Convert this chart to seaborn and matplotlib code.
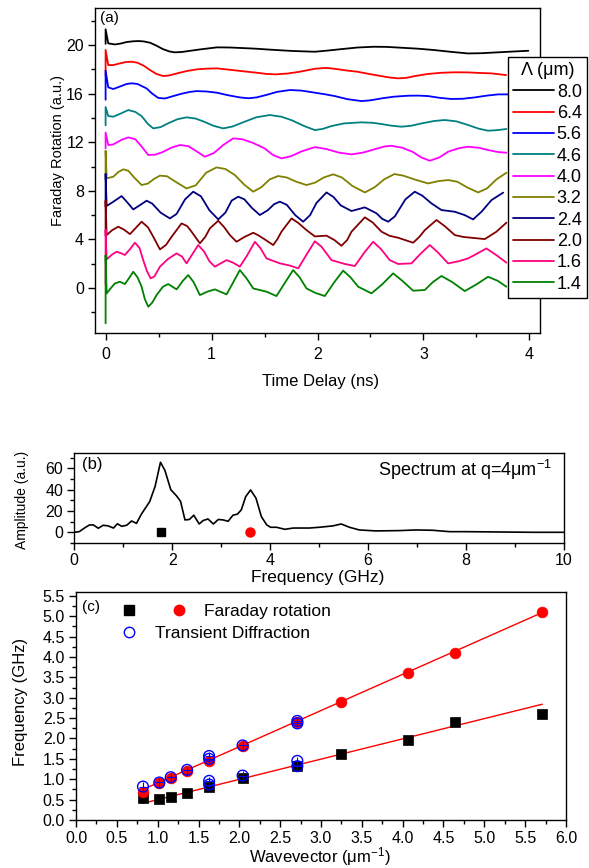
import numpy as np
import matplotlib
matplotlib.use("Agg")
import matplotlib.pyplot as plt
import seaborn as sns
from matplotlib.lines import Line2D
from matplotlib.legend_handler import HandlerTuple

sns.set_theme(style="ticks")
plt.rcParams.update({
    "font.family": ["Liberation Sans", "DejaVu Sans"],
    "mathtext.fontset": "custom",
    "mathtext.rm": "Liberation Sans",
    "mathtext.default": "regular",
    "axes.edgecolor": "black",
    "axes.linewidth": 1.0,
    "xtick.color": "black",
    "ytick.color": "black",
    "text.color": "black",
    "axes.labelcolor": "black",
})

# ---- panel (a): Faraday rotation traces, one per grating period ----
lambdas = ["8.0", "6.4", "5.6", "4.6", "4.0", "3.2", "2.4", "2.0", "1.6", "1.4"]
colors = ["#000000", "#FF0000", "#0000FF", "#008080", "#FF00FF",
          "#808000", "#000080", "#800000", "#FF0080", "#008000"]

t_80 = [0, 0, 0.025, 0.088, 0.14, 0.2, 0.26, 0.31, 0.36, 0.42, 0.48, 0.54, 0.6, 0.65, 0.72, 0.8, 0.9,
        1.05, 1.17, 1.3, 1.42, 1.52, 1.65, 1.77, 1.975, 2.1, 2.23, 2.38, 2.53, 2.65, 2.79, 2.95, 3.1,
        3.25, 3.42, 3.55, 3.7, 3.85, 3.99]
y_80 = [20.1, 21.3, 20.14, 20.05, 20.12, 20.25, 20.31, 20.33, 20.3, 20.19, 19.95, 19.67, 19.48, 19.40,
        19.43, 19.53, 19.65, 19.81, 19.8, 19.75, 19.7, 19.64, 19.57, 19.51, 19.45, 19.55, 19.67, 19.8,
        19.86, 19.85, 19.78, 19.7, 19.59, 19.45, 19.31, 19.33, 19.40, 19.47, 19.53]

t_64 = [0, 0, 0.025, 0.072, 0.13, 0.19, 0.245, 0.3, 0.36, 0.42, 0.48, 0.544, 0.6, 0.68, 0.76, 0.86,
        0.96, 1.05, 1.2, 1.32, 1.43, 1.52, 1.61, 1.72, 1.83, 1.975, 2.08, 2.16, 2.28, 2.38, 2.5, 2.6,
        2.68, 2.76, 2.84, 2.92, 3.04, 3.17, 3.3, 3.42, 3.54, 3.64, 3.78]
y_64 = [17.5, 19.6, 18.35, 18.35, 18.48, 18.6, 18.63, 18.55, 18.3, 17.94, 17.62, 17.45, 17.5, 17.68,
        17.85, 18.0, 18.06, 18.08, 17.94, 17.82, 17.72, 17.62, 17.59, 17.66, 17.8, 18.05, 18.12, 18.05,
        17.9, 17.8, 17.6, 17.45, 17.33, 17.26, 17.3, 17.45, 17.62, 17.72, 17.76, 17.75, 17.7, 17.67, 17.53]

t_56 = [0, 0, 0.025, 0.072, 0.14, 0.2, 0.245, 0.3, 0.387, 0.44, 0.497, 0.56, 0.638, 0.72, 0.8, 0.86,
        0.95, 1.05, 1.15, 1.267, 1.35, 1.425, 1.52, 1.62, 1.74, 1.85, 1.975, 2.07, 2.164, 2.28, 2.415,
        2.5, 2.604, 2.72, 2.855, 2.95, 3.044, 3.15, 3.264, 3.37, 3.484, 3.6, 3.704, 3.8]
y_56 = [15.5, 17.9, 16.52, 16.38, 16.6, 16.8, 16.85, 16.8, 16.43, 16.0, 15.65, 15.6, 15.8, 16.0, 16.15,
        16.21, 16.18, 16.08, 15.88, 15.69, 15.62, 15.69, 15.9, 16.15, 16.3, 16.25, 16.08, 15.95, 15.8,
        15.55, 15.39, 15.45, 15.61, 15.75, 15.83, 15.84, 15.80, 15.66, 15.56, 15.58, 15.69, 15.84, 15.94, 15.94]

t_46 = [0, 0, 0.025, 0.072, 0.14, 0.214, 0.28, 0.34, 0.4, 0.45, 0.52, 0.6, 0.68, 0.764, 0.85, 0.93,
        1.02, 1.11, 1.2, 1.3, 1.42, 1.55, 1.66, 1.76, 1.87, 1.975, 2.05, 2.13, 2.25, 2.415, 2.52, 2.604,
        2.7, 2.792, 2.88, 2.981, 3.1, 3.201, 3.31, 3.421, 3.52, 3.61, 3.7, 3.783]
y_46 = [13.4, 14.9, 14.16, 14.1, 14.35, 14.65, 14.5, 14.15, 13.5, 13.14, 13.25, 13.6, 13.9, 14.05,
        13.95, 13.69, 13.35, 13.14, 13.3, 13.65, 14.05, 14.24, 14.1, 13.8, 13.35, 13.0, 13.1, 13.33,
        13.55, 13.64, 13.6, 13.5, 13.36, 13.28, 13.35, 13.55, 13.75, 13.83, 13.72, 13.42, 13.12, 12.95,
        13.0, 13.09]

t_40 = [0, 0, 0.025, 0.072, 0.15, 0.214, 0.28, 0.34, 0.403, 0.47, 0.54, 0.62, 0.7, 0.78, 0.85, 0.937,
        1.02, 1.11, 1.204, 1.29, 1.39, 1.5, 1.58, 1.66, 1.75, 1.85, 1.975, 2.08, 2.2, 2.321, 2.43, 2.55,
        2.63, 2.698, 2.8, 2.9, 2.98, 3.06, 3.15, 3.233, 3.33, 3.421, 3.52, 3.61, 3.7, 3.783]
y_40 = [11.5, 12.8, 11.77, 11.82, 12.2, 12.4, 12.25, 11.65, 10.95, 10.98, 11.2, 11.55, 11.77, 11.68,
        11.3, 10.81, 11.1, 11.77, 12.32, 12.25, 11.95, 11.5, 10.95, 10.67, 10.85, 11.25, 11.6, 11.45,
        11.15, 11.0, 11.15, 11.45, 11.65, 11.71, 11.55, 11.2, 10.75, 10.48, 10.75, 11.22, 11.5, 11.63,
        11.55, 11.36, 11.2, 11.14]

t_32 = [0, 0, 0.01, 0.072, 0.12, 0.167, 0.215, 0.27, 0.34, 0.4, 0.46, 0.513, 0.58, 0.66, 0.764, 0.85,
        0.95, 1.047, 1.13, 1.22, 1.31, 1.393, 1.47, 1.55, 1.629, 1.71, 1.8, 1.896, 1.975, 2.06, 2.148,
        2.23, 2.33, 2.447, 2.54, 2.63, 2.726, 2.81, 2.93, 3.044, 3.14, 3.233, 3.32, 3.42, 3.516, 3.6,
        3.69, 3.783]
y_32 = [9.0, 11.3, 9.03, 9.16, 9.55, 9.77, 9.65, 9.1, 8.48, 8.6, 9.0, 9.25, 9.2, 8.75, 8.2, 8.45, 9.5,
        9.93, 9.8, 9.3, 8.5, 7.93, 8.3, 8.95, 9.22, 9.1, 8.75, 8.48, 8.67, 9.1, 9.36, 9.1, 8.4, 7.87, 8.3,
        8.95, 9.38, 9.25, 8.9, 8.61, 8.8, 8.89, 8.75, 8.25, 7.87, 8.2, 8.95, 9.49]

t_24 = [0, 0, 0.01, 0.072, 0.151, 0.2, 0.261, 0.32, 0.387, 0.44, 0.52, 0.607, 0.67, 0.75, 0.827, 0.9,
        0.98, 1.063, 1.13, 1.19, 1.252, 1.31, 1.38, 1.456, 1.53, 1.59, 1.645, 1.71, 1.79, 1.865, 1.93,
        1.99, 2.085, 2.15, 2.22, 2.321, 2.447, 2.557, 2.61, 2.667, 2.73, 2.83, 2.918, 2.99, 3.075, 3.17,
        3.296, 3.39, 3.469, 3.55, 3.642, 3.752]
y_24 = [6.7, 9.4, 6.75, 7.1, 7.57, 7.1, 6.47, 6.8, 7.19, 6.95, 6.2, 5.73, 6.1, 7.3, 7.93, 7.55, 6.4,
        5.65, 6.2, 7.2, 7.52, 7.3, 6.6, 6.01, 6.4, 6.9, 7.11, 6.85, 6.0, 5.46, 6.0, 7.0, 7.87, 7.5, 6.8,
        6.34, 6.64, 6.15, 5.7, 5.46, 5.9, 7.3, 7.93, 7.6, 6.97, 6.42, 6.28, 6.0, 5.65, 6.3, 7.24, 7.85]

t_20 = [0, 0, 0.01, 0.06, 0.12, 0.175, 0.23, 0.285, 0.34, 0.4, 0.45, 0.513, 0.57, 0.623, 0.717, 0.77,
        0.811, 0.89, 0.94, 0.984, 1.063, 1.12, 1.173, 1.236, 1.31, 1.393, 1.44, 1.487, 1.582, 1.62, 1.66,
        1.755, 1.82, 1.896, 1.975, 2.085, 2.16, 2.226, 2.28, 2.321, 2.447, 2.52, 2.604, 2.68, 2.761,
        2.903, 2.96, 3.013, 3.123, 3.2, 3.296, 3.38, 3.453, 3.579, 3.689, 3.783]
y_20 = [4.3, 7.2, 4.36, 4.75, 5.05, 4.8, 4.44, 4.95, 5.46, 5.0, 4.22, 3.18, 3.55, 4.22, 5.32, 5.1,
        4.64, 3.68, 4.2, 4.91, 5.54, 5.0, 4.36, 3.81, 4.2, 4.55, 4.35, 4.09, 3.54, 4.0, 4.64, 5.73, 5.35,
        4.77, 4.25, 4.31, 3.95, 3.48, 3.95, 4.64, 5.82, 5.4, 4.64, 4.3, 4.14, 3.73, 4.2, 4.77, 5.6, 5.1,
        4.36, 4.2, 4.14, 4.03, 4.64, 5.38]

t_16 = [0, 0, 0.01, 0.06, 0.104, 0.15, 0.182, 0.23, 0.277, 0.32, 0.355, 0.39, 0.425, 0.46, 0.513, 0.59,
        0.67, 0.72, 0.764, 0.82, 0.874, 0.93, 0.98, 1.031, 1.09, 1.142, 1.2, 1.267, 1.33, 1.409, 1.46,
        1.519, 1.645, 1.74, 1.818, 1.9, 1.975, 2.038, 2.132, 2.258, 2.352, 2.44, 2.525, 2.6, 2.682,
        2.761, 2.887, 2.97, 3.06, 3.14, 3.233, 3.33, 3.421, 3.51, 3.594, 3.69, 3.783]
y_16 = [0.3, 4.8, 2.36, 2.75, 2.99, 2.85, 2.72, 3.2, 3.73, 3.3, 2.3, 1.4, 0.8, 0.95, 1.76, 2.4, 2.85,
        2.6, 2.03, 2.8, 3.54, 3.0, 2.2, 1.76, 2.05, 2.3, 2.1, 1.76, 2.6, 3.81, 3.3, 2.44, 2.03, 1.85,
        1.62, 2.8, 3.85, 3.4, 2.3, 1.98, 1.81, 2.9, 3.81, 3.2, 2.3, 1.98, 2.03, 2.8, 3.54, 2.9, 2.03,
        2.2, 2.44, 2.85, 3.26, 2.7, 2.09]

t_14 = [0, 0, 0.01, 0.05, 0.088, 0.135, 0.182, 0.22, 0.261, 0.3, 0.34, 0.37, 0.403, 0.44, 0.481, 0.54,
        0.591, 0.67, 0.73, 0.78, 0.83, 0.89, 0.96, 1.031, 1.142, 1.2, 1.267, 1.33, 1.393, 1.519, 1.613,
        1.69, 1.77, 1.83, 1.896, 1.975, 2.069, 2.16, 2.242, 2.31, 2.384, 2.509, 2.61, 2.714, 2.8, 2.903,
        3.013, 3.09, 3.17, 3.27, 3.39, 3.5, 3.61, 3.7, 3.783]
y_14 = [-2.9, 2.7, -0.44, 0.0, 0.38, 0.52, 0.33, 0.8, 1.34, 0.9, 0.11, -0.9, -1.54, -1.2, -0.58, 0.1,
        0.33, -0.11, 0.6, 1.07, 0.5, -0.58, -0.3, -0.11, -0.52, 0.4, 1.48, 0.8, -0.03, -0.3, -0.66, 0.4,
        1.48, 0.9, -0.03, -0.38, -0.66, 0.5, 1.43, 0.9, 0.11, -0.44, 0.3, 1.21, 0.6, -0.22, -0.16, 0.5,
        0.99, 0.5, -0.25, 0.3, 0.93, 0.6, 0.11]

traces = [(t_80, y_80), (t_64, y_64), (t_56, y_56), (t_46, y_46), (t_40, y_40),
          (t_32, y_32), (t_24, y_24), (t_20, y_20), (t_16, y_16), (t_14, y_14)]

# ---- panel (b): spectrum at q = 4 um^-1 ----
freq = [0, 0.1, 0.22, 0.31, 0.39, 0.49, 0.59, 0.69, 0.8, 0.88, 0.97, 1.07, 1.17, 1.27, 1.37, 1.54,
        1.65, 1.76, 1.85, 1.97, 2.09, 2.17, 2.26, 2.35, 2.44, 2.55, 2.63, 2.73, 2.84, 2.94, 3.04,
        3.14, 3.24, 3.33, 3.41, 3.5, 3.6, 3.71, 3.82, 3.93, 4.01, 4.13, 4.3, 4.47, 4.8, 5.0, 5.28,
        5.45, 5.62, 5.82, 6.16, 6.64, 6.98, 7.32, 7.66, 8.0, 8.68, 9.36, 10.0]
amp = [0, 0.6, 4.4, 6.9, 6.9, 3.8, 6.6, 6.0, 4.0, 8.0, 5.6, 6.6, 10.6, 8.4, 17.0, 28.8,
       43.0, 65.6, 58.0, 40.0, 34.0, 29.0, 11.6, 12.0, 16.0, 7.8, 11.0, 12.5, 7.8, 12.0, 11.6,
       10.3, 16.0, 17.0, 21.0, 33.4, 39.7, 32.0, 14.7, 6.9, 4.7, 4.7, 2.8, 4.0, 4.0, 4.7, 6.0,
       7.8, 4.7, 2.2, 1.3, 1.6, 2.2, 1.9, 0.6, 0.6, 0.3, 0.0, 0.0]
peak_low = [1.78, 0.0]
peak_high = [3.58, 0.0]

# ---- panel (c): dispersion ----
q_fr = [0.82, 1.02, 1.16, 1.36, 1.63, 2.04, 2.71, 3.25, 4.06, 4.64, 5.71]
f_fr_low = [0.53, 0.51, 0.57, 0.67, 0.80, 1.02, 1.33, 1.63, 1.97, 2.41, 2.60]
f_fr_high = [0.68, 0.90, 1.04, 1.21, 1.45, 1.81, 2.40, 2.90, 3.60, 4.09, 5.09]
q_td = [0.82, 1.02, 1.16, 1.36, 1.63, 1.63, 1.63, 1.63, 2.04, 2.04, 2.71, 2.71, 2.71, 2.71]
f_td = [0.82, 0.92, 1.05, 1.23, 1.57, 1.50, 0.96, 0.87, 1.83, 1.09, 2.43, 2.37, 1.45, 1.32]
fit_q = [0.82, 5.71]
fit_high = [0.75, 5.09]
fit_low = [0.41, 2.84]

W, H = 589, 868
fig = plt.figure(figsize=(W / 100, H / 100), dpi=100)


def box(l, t, r, b):
    return [l / W, 1 - b / H, (r - l) / W, (b - t) / H]


def style(ax):
    ax.tick_params(which="both", direction="out", top=False, right=False,
                   labelsize=11.5, width=1)
    ax.tick_params(which="major", length=5, pad=3)
    ax.tick_params(which="minor", length=3)
    for s in ax.spines.values():
        s.set_visible(True)
        s.set_color("black")
        s.set_linewidth(1.0)


# (a)
ax_a = fig.add_axes(box(95, 8, 540, 333))
for (tt, yy), lab, c in zip(traces, lambdas, colors):
    sns.lineplot(x=tt, y=yy, ax=ax_a, color=c, lw=1.3, sort=False, estimator=None, label=lab)
ax_a.set_xlim(-0.1, 4.1)
ax_a.set_ylim(-3.7, 23.05)
ax_a.set_xticks([0, 1, 2, 3, 4])
ax_a.set_xticks(np.arange(0, 4.01, 0.5), minor=True)
ax_a.set_yticks([0, 4, 8, 12, 16, 20])
ax_a.set_yticks(np.arange(-2, 23, 2), minor=True)
style(ax_a)
ax_a.tick_params(axis="x", pad=5)
ax_a.set_xlabel("Time Delay (ns)", fontsize=12)
ax_a.set_ylabel("Faraday Rotation (a.u.)", fontsize=10.5)
ax_a.xaxis.set_label_coords(0.506, -0.126)
ax_a.yaxis.set_label_coords(-0.067, 0.563)
ax_a.text(0.011, 0.99, "(a)", transform=ax_a.transAxes, ha="left", va="top", fontsize=11)
leg = ax_a.legend(title="Λ (μm)", loc="upper left", bbox_to_anchor=(507.7 / W, 1 - 57.3 / H),
                  bbox_transform=fig.transFigure, borderaxespad=0, fontsize=13,
                  title_fontsize=13, handlelength=2.27, handletextpad=0.17,
                  labelspacing=0.24, borderpad=0.28, fancybox=False, framealpha=1,
                  edgecolor="black")
leg.get_frame().set_linewidth(1.0)

# (b)
ax_b = fig.add_axes(box(74.3, 453.3, 564, 543.3))
sns.lineplot(x=freq, y=amp, ax=ax_b, color="black", lw=1.2, sort=False, estimator=None)
ax_b.plot(peak_low[0], peak_low[1], marker="s", color="black", ms=6, ls="none")
ax_b.plot(peak_high[0], peak_high[1], marker="o", color="red", ms=6.5, ls="none")
ax_b.set_xlim(0, 10)
ax_b.set_ylim(-10.3, 74)
ax_b.set_xticks([0, 2, 4, 6, 8, 10])
ax_b.set_xticks(np.arange(0, 10.1, 1), minor=True)
ax_b.set_yticks([0, 20, 40, 60])
ax_b.set_yticks(np.arange(-10, 71, 10), minor=True)
style(ax_b)
ax_b.tick_params(axis="x", pad=2)
ax_b.set_xlabel("Frequency (GHz)", fontsize=12.5)
ax_b.set_ylabel("Amplitude (a.u.)", fontsize=10)
ax_b.xaxis.set_label_coords(0.498, -0.295)
ax_b.yaxis.set_label_coords(-0.0925, 0.48)
ax_b.text(0.016, 0.955, "(b)", transform=ax_b.transAxes, ha="left", va="top", fontsize=12)
ax_b.text(0.976, 0.814, "Spectrum at q=4μm$^{-1}$", transform=ax_b.transAxes,
          ha="right", va="center", fontsize=13)

# (c)
ax_c = fig.add_axes(box(76, 591.7, 566, 820))
sns.lineplot(x=fit_q, y=fit_high, ax=ax_c, color="red", lw=1.0, estimator=None)
sns.lineplot(x=fit_q, y=fit_low, ax=ax_c, color="red", lw=1.0, estimator=None)
sns.scatterplot(x=q_fr, y=f_fr_low, ax=ax_c, marker="s", color="black", s=55,
                edgecolor="black", linewidth=0.5, zorder=3)
sns.scatterplot(x=q_fr, y=f_fr_high, ax=ax_c, marker="o", color="red", s=60,
                edgecolor="red", linewidth=0.5, zorder=3)
ax_c.errorbar(q_td, f_td, yerr=0.1, xerr=0.05, fmt="none", ecolor="#0000FF",
              elinewidth=0.8, zorder=4)
sns.scatterplot(x=q_td, y=f_td, ax=ax_c, marker="o", facecolor="none",
                edgecolor="#0000FF", s=60, linewidth=1.0, zorder=5)
ax_c.set_xlim(0, 6)
ax_c.set_ylim(0, 5.6)
ax_c.set_xticks(np.arange(0, 6.01, 0.5))
ax_c.set_xticks(np.arange(0, 6.01, 0.25), minor=True)
ax_c.set_yticks(np.arange(0, 5.51, 0.5))
ax_c.set_yticks(np.arange(0, 5.51, 0.25), minor=True)
ax_c.xaxis.set_major_formatter(plt.FormatStrFormatter("%.1f"))
ax_c.yaxis.set_major_formatter(plt.FormatStrFormatter("%.1f"))
style(ax_c)
ax_c.set_xlabel("Wavevector (μm$^{-1}$)", fontsize=12)
ax_c.set_ylabel("Frequency (GHz)", fontsize=12)
ax_c.xaxis.set_label_coords(0.498, -0.112)
ax_c.yaxis.set_label_coords(-0.098, 0.517)
ax_c.text(0.012, 0.965, "(c)", transform=ax_c.transAxes, ha="left", va="top", fontsize=11)

h_sq = Line2D([], [], marker="s", color="black", ls="none", ms=7)
h_rc = Line2D([], [], marker="o", color="red", ls="none", ms=7.5)
h_bc = Line2D([], [], marker="o", mfc="none", mec="#0000FF", ls="none", ms=7.5, mew=1.0)
leg1 = ax_c.legend([(h_sq, h_rc)], ["Faraday rotation"],
                   handler_map={tuple: HandlerTuple(ndivide=None, pad=0)},
                   loc="center left", bbox_to_anchor=((104 - 76) / 490, (820 - 611) / 228.3),
                   frameon=False, fontsize=12.5, handlelength=5.76, handletextpad=0.0,
                   borderpad=0, borderaxespad=0)
ax_c.add_artist(leg1)
ax_c.legend([h_bc], ["Transient Diffraction"], loc="center left",
            bbox_to_anchor=((109.5 - 76) / 490, (820 - 633.3) / 228.3),
            frameon=False, fontsize=12.5, handlelength=2.25, handletextpad=0.37,
            borderpad=0, borderaxespad=0)

fig.savefig("out.png", dpi=100)
